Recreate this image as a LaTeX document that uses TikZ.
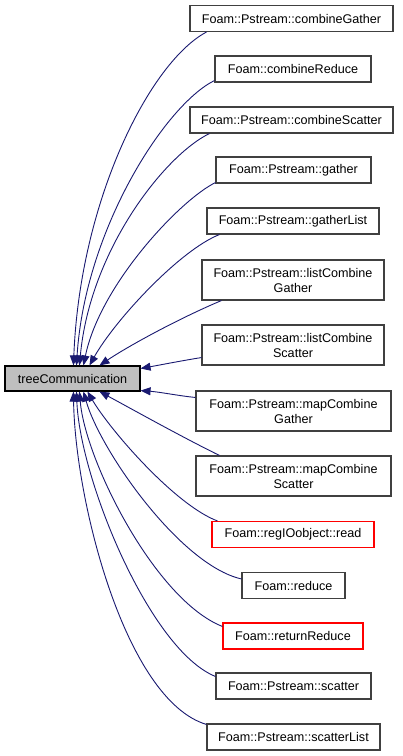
\documentclass[tikz,border=0pt]{standalone}
\usepackage{fontspec}
\setmainfont{Liberation Sans}
\usetikzlibrary{arrows.meta,calc}
\definecolor{edgeblue}{HTML}{191970}
\definecolor{boxgray}{HTML}{404040}
\definecolor{tcfill}{HTML}{BFBFBF}
\tikzset{
  box/.style={draw=boxgray, line width=1.1pt, fill=white, inner sep=0pt, minimum height=26pt, align=center,
    font=\fontsize{12.6}{15}\selectfont},
  twobox/.style={box, minimum height=40pt},
  redbox/.style={box, draw=red},
  tcbox/.style={box, draw=black, fill=tcfill, minimum height=25pt},
  edge/.style={draw=edgeblue, line width=0.9pt, -{Triangle[length=10pt,width=8pt]}},
}
\begin{document}
\begin{tikzpicture}[x=1pt,y=-1pt]
\useasboundingbox (0,0) rectangle (403,756);
\node[tcbox, minimum width=135pt] (tc) at (72.5,378.5) {treeCommunication};
\node[box, minimum width=203pt] (n1) at (291.5,18.5) {Foam::Pstream::combineGather};
\node[box, minimum width=156pt] (n2) at (293,69) {Foam::combineReduce};
\node[box, minimum width=203pt] (n3) at (291.5,120) {Foam::Pstream::combineScatter};
\node[box, minimum width=155pt] (n4) at (293.5,170) {Foam::Pstream::gather};
\node[box, minimum width=172pt] (n5) at (293,221) {Foam::Pstream::gatherList};
\node[twobox, minimum width=182pt] (n6) at (293,280) {Foam::Pstream::listCombine\\Gather};
\node[twobox, minimum width=182pt] (n7) at (293,345) {Foam::Pstream::listCombine\\Scatter};
\node[twobox, minimum width=195pt] (n8) at (293.5,411) {Foam::Pstream::mapCombine\\Gather};
\node[twobox, minimum width=195pt] (n9) at (293.5,476) {Foam::Pstream::mapCombine\\Scatter};
\node[redbox, minimum width=162pt] (n10) at (293,534.5) {Foam::regIOobject::read};
\node[box, minimum width=103pt] (n11) at (293.5,585.5) {Foam::reduce};
\node[redbox, minimum width=140pt] (n12) at (293,636) {Foam::returnReduce};
\node[box, minimum width=155pt] (n13) at (293.5,686) {Foam::Pstream::scatter};
\node[box, minimum width=173pt] (n14) at (293.5,737) {Foam::Pstream::scatterList};

\draw[edge] ($(n1.south west)+(17,0)$) .. controls (150,62) and (80,200) .. ($(tc.north west)+(69,0)$);
\draw[edge] ($(n2.south west)+(0,-2)$) .. controls (165,105) and (85,230) .. ($(tc.north west)+(72,0)$);
\draw[edge] ($(n3.south west)+(20,0)$) .. controls (165,155) and (90,250) .. ($(tc.north west)+(75,0)$);
\draw[edge] ($(n4.south west)+(0,-1)$) .. controls (180,200) and (100,285) .. ($(tc.north west)+(79,0)$);
\draw[edge] ($(n5.south west)+(13,0)$) .. controls (180,250) and (115,320) .. ($(tc.north west)+(85,0)$);
\draw[edge] ($(n6.south west)+(20,0)$) .. controls (180,318) and (130,345) .. ($(tc.north west)+(95,0)$);
\draw[edge] ($(n7.south west)+(0,-8)$) .. controls (180,361) and (160,365) .. ($(tc.north east)+(0,3)$);
\draw[edge] ($(n8.north west)+(0,7)$) .. controls (180,396) and (160,392) .. ($(tc.south east)+(0,-1)$);
\draw[edge] ($(n9.north west)+(24,0)$) .. controls (180,436) and (130,408) .. ($(tc.south west)+(95,0)$);
\draw[edge] ($(n10.north west)+(6,0)$) .. controls (175,505) and (110,430) .. ($(tc.south west)+(83,0)$);
\draw[edge] ($(n11.north west)+(0,7)$) .. controls (180,565) and (100,450) .. ($(tc.south west)+(79,0)$);
\draw[edge] ($(n12.north west)+(0,4)$) .. controls (155,600) and (85,460) .. ($(tc.south west)+(75,0)$);
\draw[edge] ($(n13.north west)+(0,4)$) .. controls (150,650) and (80,480) .. ($(tc.south west)+(72,0)$);
\draw[edge] ($(n14.north west)+(0,1)$) .. controls (125,700) and (75,500) .. ($(tc.south west)+(69,0)$);
\end{tikzpicture}
\end{document}
